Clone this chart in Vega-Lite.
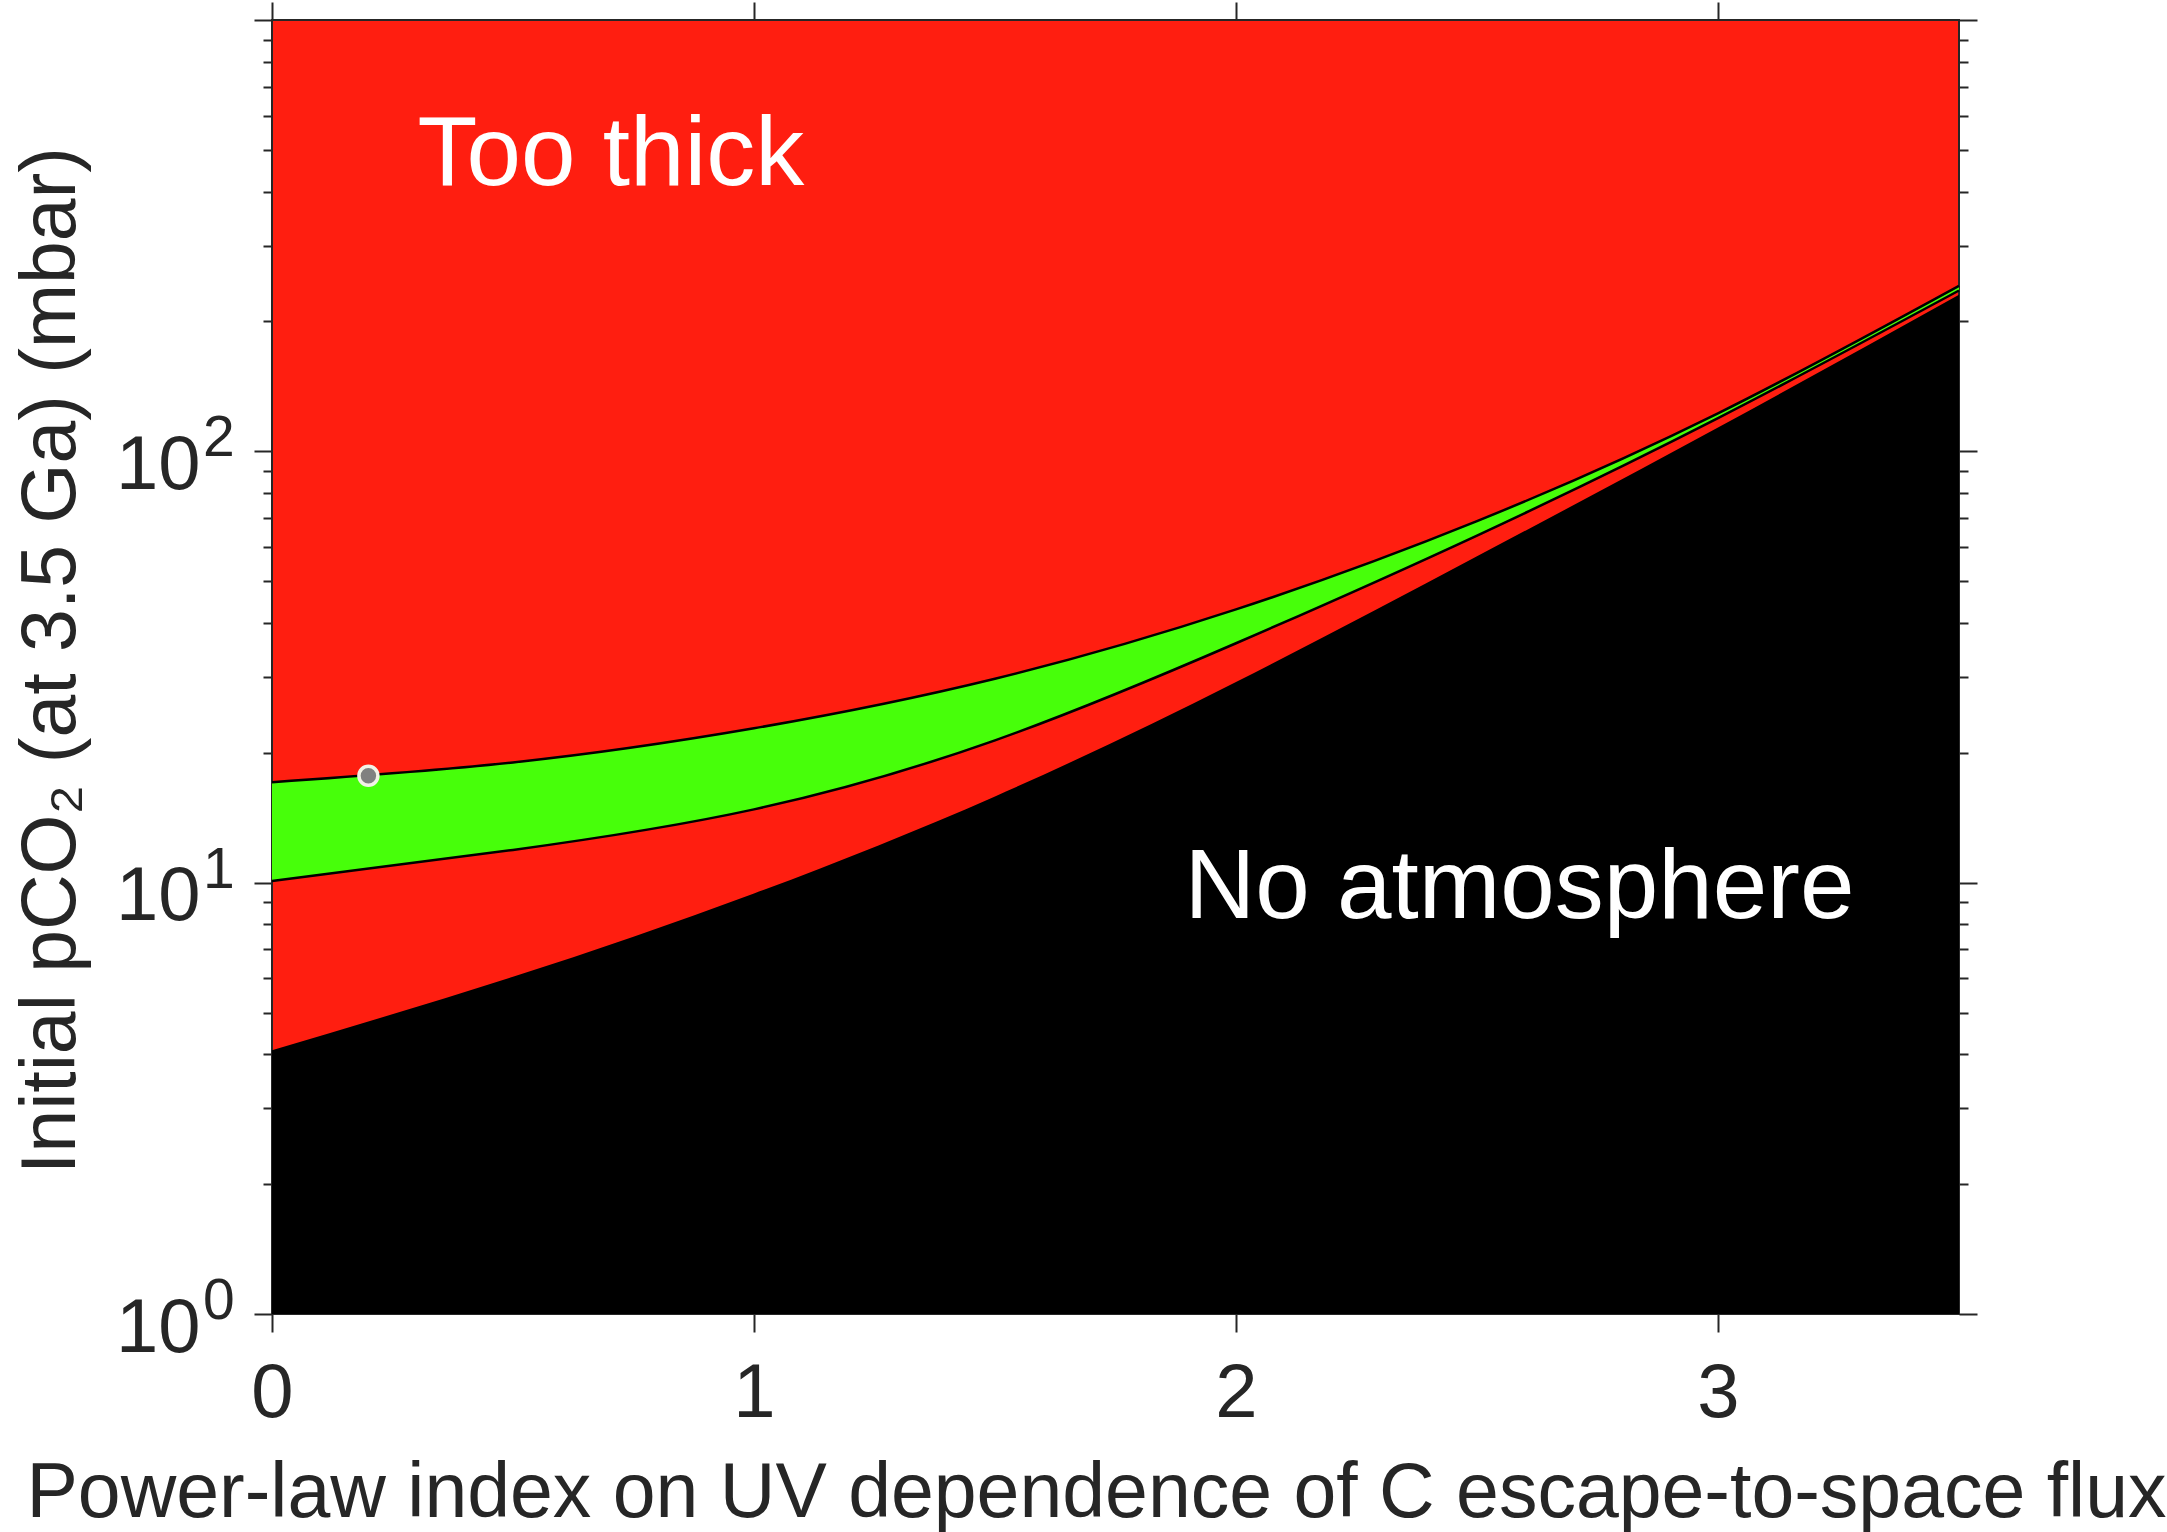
{
  "$schema": "https://vega.github.io/schema/vega-lite/v6.json",
  "width": 1687,
  "height": 1294,
  "autosize": {"type": "none"},
  "padding": {"left": 272, "top": 20, "right": 208, "bottom": 218},
  "background": "white",
  "config": {
    "view": {"fill": "#FF1E10", "stroke": "#262626", "strokeWidth": 2},
    "font": "Liberation Sans",
    "axis": {
      "labelFont": "Liberation Sans",
      "titleFont": "Liberation Sans",
      "labelColor": "#262626",
      "titleColor": "#262626",
      "titleFontWeight": "normal",
      "tickColor": "#262626",
      "tickWidth": 2,
      "domain": false,
      "grid": false,
      "labelFlush": false
    }
  },
  "datasets": {
    "curves": [
      {"x": 0.0, "upper": 17.1, "lower": 10.09, "black": 4.09},
      {"x": 0.5, "upper": 19.0, "lower": 11.91, "black": 6.05},
      {"x": 1.0, "upper": 22.8, "lower": 14.79, "black": 9.44},
      {"x": 1.5, "upper": 29.7, "lower": 21.38, "black": 15.85},
      {"x": 2.0, "upper": 43.0, "lower": 35.9, "black": 29.2},
      {"x": 2.5, "upper": 68.9, "lower": 63.8, "black": 57.1},
      {"x": 3.0, "upper": 122.5, "lower": 119.4, "black": 113.5},
      {"x": 3.5, "upper": 242.0, "lower": 236.0, "black": 230.7}
    ],
    "marker": [{"x": 0.2, "y": 17.7}],
    "labels": [
      {"x": 0.302, "y": 414.7, "label": "Too thick"},
      {"x": 1.893, "y": 8.3, "label": "No atmosphere"}
    ],
    "exponents": [
      {"y": 1, "e": "0"},
      {"y": 10, "e": "1"},
      {"y": 100, "e": "2"}
    ]
  },
  "resolve": {"axis": {"x": "independent", "y": "independent"}},
  "layer": [
    {
      "data": {"name": "curves"},
      "mark": {"type": "area", "color": "#000000", "interpolate": "natural"},
      "encoding": {
        "x": {
          "field": "x", "type": "quantitative",
          "scale": {"domain": [0, 3.5], "nice": false, "zero": false},
          "axis": {
            "orient": "bottom",
            "values": [0, 1, 2, 3],
            "format": "d",
            "tickSize": 18,
            "labelFontSize": 76,
            "labelPadding": 24,
            "title": "Power-law index on UV dependence of C escape-to-space flux",
            "titleFontSize": 77,
            "titleX": 824,
            "titleY": 202,
            "titleAlign": "center",
            "titleBaseline": "alphabetic"
          }
        },
        "y": {
          "field": "black", "type": "quantitative",
          "scale": {"type": "log", "domain": [1, 1000], "nice": false},
          "axis": {
            "orient": "left",
            "values": [1,2,3,4,5,6,7,8,9,10,20,30,40,50,60,70,80,90,100,200,300,400,500,600,700,800,900,1000],
            "tickSize": {"condition": {"test": "indexof([1,10,100,1000], datum.value) >= 0", "value": 18}, "value": 9},
            "labelExpr": "indexof([1,10,100], datum.value) >= 0 ? '10' : ''",
            "labelOverlap": false,
            "labelFontSize": 76,
            "labelPadding": 54,
            "labelBaseline": "middle",
            "labelOffset": 14,
            "title": "Initial pCO₂ (at 3.5 Ga) (mbar)",
            "titleFontSize": 77,
            "titleX": -198,
            "titleY": 640,
            "titleAngle": 270,
            "titleAlign": "center",
            "titleBaseline": "alphabetic"
          }
        },
        "y2": {"datum": 1}
      }
    },
    {
      "data": {"name": "curves"},
      "mark": {"type": "area", "color": "#47FF0A", "interpolate": "natural"},
      "encoding": {
        "x": {"field": "x", "type": "quantitative", "axis": null},
        "y": {"field": "upper", "type": "quantitative", "axis": null},
        "y2": {"field": "lower"}
      }
    },
    {
      "data": {"name": "curves"},
      "mark": {"type": "line", "color": "#000000", "strokeWidth": 2.5, "interpolate": "natural"},
      "encoding": {
        "x": {"field": "x", "type": "quantitative", "axis": null},
        "y": {"field": "upper", "type": "quantitative", "axis": null}
      }
    },
    {
      "data": {"name": "curves"},
      "mark": {"type": "line", "color": "#000000", "strokeWidth": 2.5, "interpolate": "natural"},
      "encoding": {
        "x": {"field": "x", "type": "quantitative", "axis": null},
        "y": {"field": "lower", "type": "quantitative", "axis": null}
      }
    },
    {
      "data": {"name": "labels"},
      "mark": {"type": "text", "color": "white", "fontSize": 98, "font": "Liberation Sans", "align": "left", "baseline": "alphabetic"},
      "encoding": {
        "x": {"field": "x", "type": "quantitative", "axis": null},
        "y": {"field": "y", "type": "quantitative", "axis": null},
        "text": {"field": "label"}
      }
    },
    {
      "data": {"name": "exponents"},
      "mark": {"type": "text", "color": "#262626", "fontSize": 57, "font": "Liberation Sans", "align": "left", "baseline": "alphabetic", "dx": -69, "dy": 5, "clip": false},
      "encoding": {
        "x": {"datum": 0, "type": "quantitative", "axis": null},
        "y": {"field": "y", "type": "quantitative", "axis": null},
        "text": {"field": "e"}
      }
    },
    {
      "data": {"name": "marker"},
      "mark": {"type": "point", "shape": "circle", "filled": true, "fill": "#808080", "stroke": "#F2F2E6", "strokeWidth": 3.5, "size": 360, "opacity": 1},
      "encoding": {
        "x": {
          "field": "x", "type": "quantitative",
          "axis": {"orient": "top", "values": [0, 1, 2, 3], "labels": false, "tickSize": 18, "title": null}
        },
        "y": {
          "field": "y", "type": "quantitative",
          "axis": {
            "orient": "right",
            "values": [1,2,3,4,5,6,7,8,9,10,20,30,40,50,60,70,80,90,100,200,300,400,500,600,700,800,900,1000],
            "tickSize": {"condition": {"test": "indexof([1,10,100,1000], datum.value) >= 0", "value": 18}, "value": 9},
            "labels": false,
            "title": null
          }
        }
      }
    }
  ]
}
